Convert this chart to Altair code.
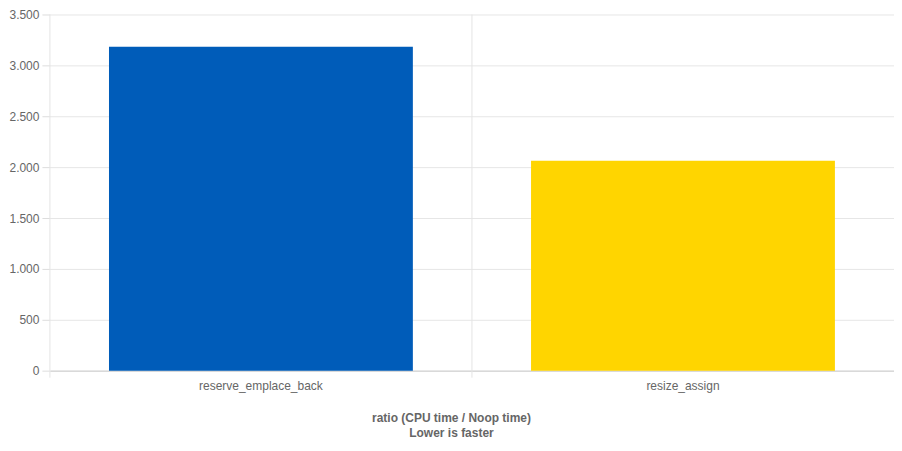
import altair as alt
import pandas as pd

categories = ["reserve_emplace_back", "resize_assign"]
values = [3182, 2063]
colors = ["#005CB9", "#FFD500"]
y_ticks = [0, 500, 1000, 1500, 2000, 2500, 3000, 3500]

df = pd.DataFrame({"name": categories, "value": values})

W, H = 846, 357
x_scale = alt.Scale(domain=categories, paddingInner=0.28, paddingOuter=0.14)
x_axis = alt.Axis(labelAngle=0, grid=False, ticks=False,
                  domainColor="#cccccc", labelColor="#666666",
                  labelFont="Liberation Sans", labelFontSize=12, labelPadding=10)

grid = alt.Chart(df).mark_rule(color="#e4e4e4", strokeWidth=1, xOffset=-0.14 * W / 2).encode(
    x=alt.X("name:N", sort=categories, scale=x_scale, axis=x_axis, title=None, bandPosition=0),
    y=alt.value(0),
    y2=alt.value(H + 7),
)

bars = alt.Chart(df).mark_bar().encode(
    x=alt.X("name:N", sort=categories, title=None, scale=x_scale, axis=x_axis),
    y=alt.Y("value:Q", title=None,
            scale=alt.Scale(domain=[0, 3500]),
            axis=alt.Axis(values=y_ticks,
                          labelExpr="replace(format(datum.value, ','), ',', '.')",
                          domain=False, gridColor="#e6e6e6", tickColor="#dddddd",
                          tickSize=8, labelColor="#666666", labelFont="Liberation Sans",
                          labelFontSize=12, labelPadding=3)),
    color=alt.Color("name:N", scale=alt.Scale(domain=categories, range=colors), legend=None),
)

chart = alt.layer(grid, bars).properties(
    width=W, height=H,
    padding={"left": 0, "right": 0, "top": 0, "bottom": 0},
    title=alt.TitleParams(["ratio (CPU time / Noop time)", "Lower is faster"],
                          orient="bottom", anchor="middle", frame="bounds",
                          font="Liberation Sans", fontSize=12, fontWeight="bold",
                          color="#666666", offset=21, lineHeight=15),
).configure_view(stroke=None)

chart.save("out.html", embed_options={"renderer": "svg", "actions": False})
